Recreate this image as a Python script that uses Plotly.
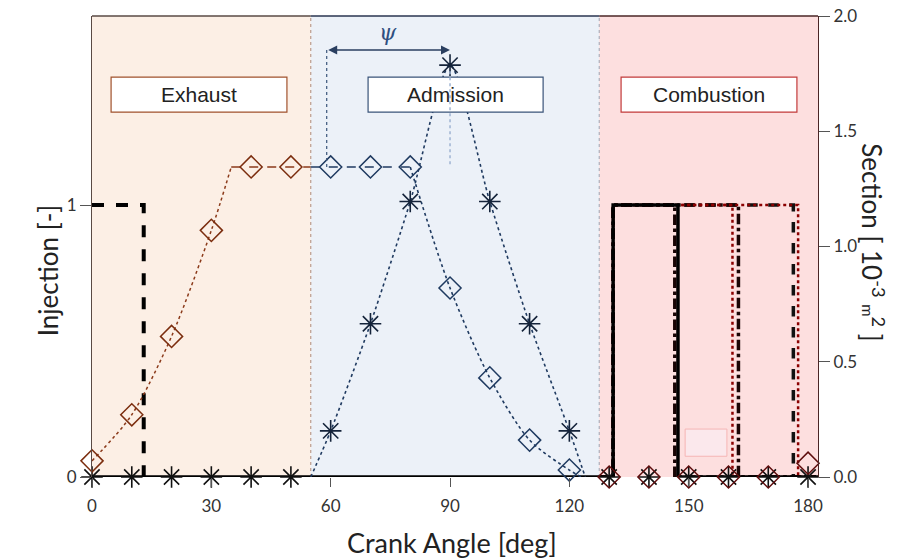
import plotly.graph_objects as go

# ---------------- data ----------------
angles = [0, 10, 20, 30, 40, 50, 60, 70, 80, 90, 100, 110, 120, 130, 140, 150, 160, 170, 180]
section_diamond = [0.07, 0.27, 0.61, 1.07, 1.345, 1.345, 1.345, 1.345, 1.345, 0.82, 0.43, 0.16, 0.03,
                   0.0, 0.0, 0.0, 0.0, 0.0, 0.06]
section_star = [0.0, 0.0, 0.0, 0.0, 0.0, 0.0, 0.2, 0.665, 1.195, 1.787, 1.195, 0.665, 0.2,
                0.0, 0.0, 0.0, 0.0, 0.0, 0.0]

# curves
exh_rise_x = [0, 10, 20, 30, 35]
exh_rise_y = [0.07, 0.27, 0.61, 1.07, 1.345]
exh_flat_x = [35, 55]
exh_flat_y = [1.345, 1.345]
adm_flat_x = [55, 80]
adm_flat_y = [1.345, 1.345]
adm_fall_x = [80, 90, 100, 110, 120, 123]
adm_fall_y = [1.345, 0.82, 0.43, 0.16, 0.03, 0.0]
star_curve_x = [55, 60, 70, 80, 90, 100, 110, 120, 124]
star_curve_y = [0.0, 0.2, 0.665, 1.195, 1.787, 1.195, 0.665, 0.2, 0.0]

# injection signals (left axis)
inj_x = [0, 13, 13]
inj_y = [1, 1, 0]
pulse_start = 131
pulse_ends = {"solid": 147.3, "dashdot_a": 146.5, "dot_a": 161.0,
              "dashdot_b": 162.5, "dash": 176.3, "dot_b": 177.5}

# regions
regions = [("Exhaust", 0, 55), ("Admission", 55, 127.5), ("Combustion", 127.5, 182.5)]
region_fill = {"Exhaust": "#fcefe5", "Admission": "#ecf1f8", "Combustion": "#fddfdf"}
region_border = {"Exhaust": "#a0522d", "Admission": "#3a5479", "Combustion": "#c23b3b"}
region_mark = {"Exhaust": "#7b2d0e", "Admission": "#1f3a60", "Combustion": "#5e0d0d"}
label_box = {"Exhaust": (4.8, 49), "Admission": (69.4, 113.4), "Combustion": (133, 177.2)}
label_y = (1.583, 1.735)

psi_left, psi_right, psi_y = 59, 90, 1.852

X_MAX = 182.5


def region_of(a):
    for name, lo, hi in regions:
        if lo <= a < hi:
            return name
    return regions[-1][0]


fig = go.Figure()

# ---- section curves (right axis) ----
navy = region_mark["Admission"]
fig.add_trace(go.Scatter(x=exh_rise_x, y=exh_rise_y, yaxis="y2", mode="lines",
                         line=dict(color="#8b3a1a", width=1.5, dash="dot", shape="spline", smoothing=0.8)))
fig.add_trace(go.Scatter(x=exh_flat_x, y=exh_flat_y, yaxis="y2", mode="lines",
                         line=dict(color="#8b3a1a", width=1.5, dash="dash")))
fig.add_trace(go.Scatter(x=adm_flat_x, y=adm_flat_y, yaxis="y2", mode="lines",
                         line=dict(color=navy, width=1.5, dash="dash")))
fig.add_trace(go.Scatter(x=adm_fall_x, y=adm_fall_y, yaxis="y2", mode="lines",
                         line=dict(color=navy, width=1.6, dash="dot", shape="spline", smoothing=0.8)))
fig.add_trace(go.Scatter(x=star_curve_x, y=star_curve_y, yaxis="y2", mode="lines",
                         line=dict(color=navy, width=1.6, dash="dot", shape="spline", smoothing=0.7)))

# ---- combustion pulses (left axis) ----
def pulse(end):
    return [127.5, pulse_start, pulse_start, end, end, 182], [0, 0, 1, 1, 0, 0]

for key, col, dash, w in [("dash", "#111111", "dash", 3.5),
                          ("dashdot_b", "#1a0505", "dashdot", 3.5),
                          ("dashdot_a", "#1a0505", "dashdot", 3.5),
                          ("dot_b", "#8b0000", "dot", 2.5),
                          ("dot_a", "#8b0000", "dot", 2.5)]:
    px, py = pulse(pulse_ends[key])
    fig.add_trace(go.Scatter(x=px, y=py, mode="lines",
                             line=dict(color=col, width=w, dash=dash)))

solid_x = [0, pulse_start, pulse_start, pulse_ends["solid"], pulse_ends["solid"], X_MAX]
solid_y = [0, 0, 1, 1, 0, 0]
fig.add_trace(go.Scatter(x=solid_x, y=solid_y, mode="lines",
                         line=dict(color="#000000", width=3.5)))
fig.add_trace(go.Scatter(x=inj_x, y=inj_y, mode="lines",
                         line=dict(color="#000000", width=4, dash="dash")))

# ---- markers ----
diamond_cols = [region_mark[region_of(a)] for a in angles]
star_cols = ["#111111" if region_of(a) != "Admission" else "#14233a" for a in angles]
fig.add_trace(go.Scatter(x=angles, y=section_star, yaxis="y2", mode="markers",
                         marker=dict(symbol="asterisk-open", size=18, color=star_cols,
                                     line=dict(width=1.6, color=star_cols)),
                         cliponaxis=False))
fig.add_trace(go.Scatter(x=angles, y=section_diamond, yaxis="y2", mode="markers",
                         marker=dict(symbol="diamond-open", size=17, color=diamond_cols,
                                     line=dict(width=1.5, color=diamond_cols)),
                         cliponaxis=False))

# ---------------- shapes ----------------
shapes = []
for name, lo, hi in regions:
    shapes.append(dict(type="rect", xref="x", yref="paper", x0=lo, x1=hi, y0=0, y1=1,
                       fillcolor=region_fill[name], line=dict(width=0), layer="below"))
shapes.append(dict(type="line", xref="x", yref="paper", x0=55, x1=55, y0=0, y1=1,
                   line=dict(color="#b08a78", width=1, dash="dot"), layer="below"))
shapes.append(dict(type="line", xref="x", yref="paper", x0=127.5, x1=127.5, y0=0, y1=1,
                   line=dict(color="#a0a4b0", width=1, dash="dot"), layer="below"))
for name, lo, hi in regions:
    col = {"Exhaust": "#5a4a44", "Admission": "#2a3550", "Combustion": "#4a2626"}[name]
    shapes.append(dict(type="line", xref="x", yref="paper", x0=lo, x1=hi, y0=1, y1=1,
                       line=dict(color=col, width=1.5)))
for name, _, _ in regions:
    x0, x1 = label_box[name]
    shapes.append(dict(type="rect", xref="x", yref="y2", x0=x0, x1=x1, y0=label_y[0], y1=label_y[1],
                       fillcolor="white", line=dict(color=region_border[name], width=1.2), layer="above"))
shapes.append(dict(type="line", xref="x", yref="y2", x0=psi_left, x1=psi_left, y0=psi_y, y1=1.345,
                   line=dict(color="#3a5479", width=1.2, dash="dot"), layer="above"))
shapes.append(dict(type="line", xref="x", yref="y2", x0=psi_right, x1=psi_right, y0=1.76, y1=1.345,
                   line=dict(color="#9fb4d2", width=1.5, dash="dot"), layer="above"))
shapes.append(dict(type="rect", xref="x", yref="y2", x0=149.1, x1=159.6, y0=0.09, y1=0.208,
                   fillcolor="#fbe8ec", line=dict(color="#f5b5b5", width=1), layer="above"))

annotations = []
for name, _, _ in regions:
    x0, x1 = label_box[name]
    annotations.append(dict(x=(x0 + x1) / 2, y=(label_y[0] + label_y[1]) / 2, xref="x", yref="y2",
                            text=name, showarrow=False,
                            font=dict(family="Liberation Sans, Arial", size=21, color="#222222")))
annotations.append(dict(x=psi_right, y=psi_y, ax=psi_left, ay=psi_y, xref="x", yref="y2",
                        axref="x", ayref="y2", text="", showarrow=True, arrowhead=2,
                        arrowside="end+start", arrowsize=1.2, arrowwidth=1.5, arrowcolor="#2a3f60"))
annotations.append(dict(x=(psi_left + psi_right) / 2, y=1.93, xref="x", yref="y2", text="<i>ψ</i>",
                        showarrow=False,
                        font=dict(family="DejaVu Serif", size=22, color="#2f4f80")))
annotations.append(dict(x=-0.085, y=0.447, xref="paper", yref="paper", text="Injection [-]",
                        textangle=-90, showarrow=False,
                        font=dict(family="Lato", size=26, color="#222222")))
annotations.append(dict(x=1.102, y=0.51, xref="paper", yref="paper",
                        text="Section [ 10<sup>-3</sup> <span style='font-size:15px'>m</span><sup>2</sup> ]",
                        textangle=90, showarrow=False,
                        font=dict(family="Lato", size=26, color="#222222")))
annotations.append(dict(x=0.496, y=-0.143, xref="paper", yref="paper", text="Crank Angle [deg]",
                        showarrow=False, yanchor="middle",
                        font=dict(family="Lato", size=27, color="#222222")))

tickfont = dict(family="Lato", size=17, color="#333333")
# page body has an 8px default margin, so the figure is sized/offset to fill the 920x560 window
fig.update_layout(
    width=912, height=552,
    margin=dict(l=84, r=102, t=8, b=83, autoexpand=False),
    plot_bgcolor="white", paper_bgcolor="white",
    showlegend=False,
    shapes=shapes, annotations=annotations,
    xaxis=dict(range=[0, X_MAX], tickvals=[0, 30, 60, 90, 120, 150, 180], ticks="outside",
               ticklen=9, tickcolor="#555555", tickfont=tickfont, showgrid=False, zeroline=False,
               showline=False, ticklabelstandoff=5, automargin=False, ticklabeloverflow="allow"),
    yaxis=dict(range=[0, 1.695], tickvals=[0, 1], ticks="outside", ticklen=11, tickcolor="#555555",
               tickfont=tickfont, showgrid=False, zeroline=False, showline=True,
               linecolor="#5a4a44", linewidth=1.2, automargin=False, ticklabeloverflow="allow"),
    yaxis2=dict(range=[0, 2.0], tickvals=[0, 0.5, 1.0, 1.5, 2.0], tickformat=".1f",
                overlaying="y", side="right", ticks="outside", ticklen=11, tickcolor="#555555",
                tickfont=tickfont, showgrid=False, zeroline=False, showline=True,
                linecolor="#4a2626", linewidth=1.2, automargin=False, ticklabeloverflow="allow"),
)

fig.write_html("out.html")
